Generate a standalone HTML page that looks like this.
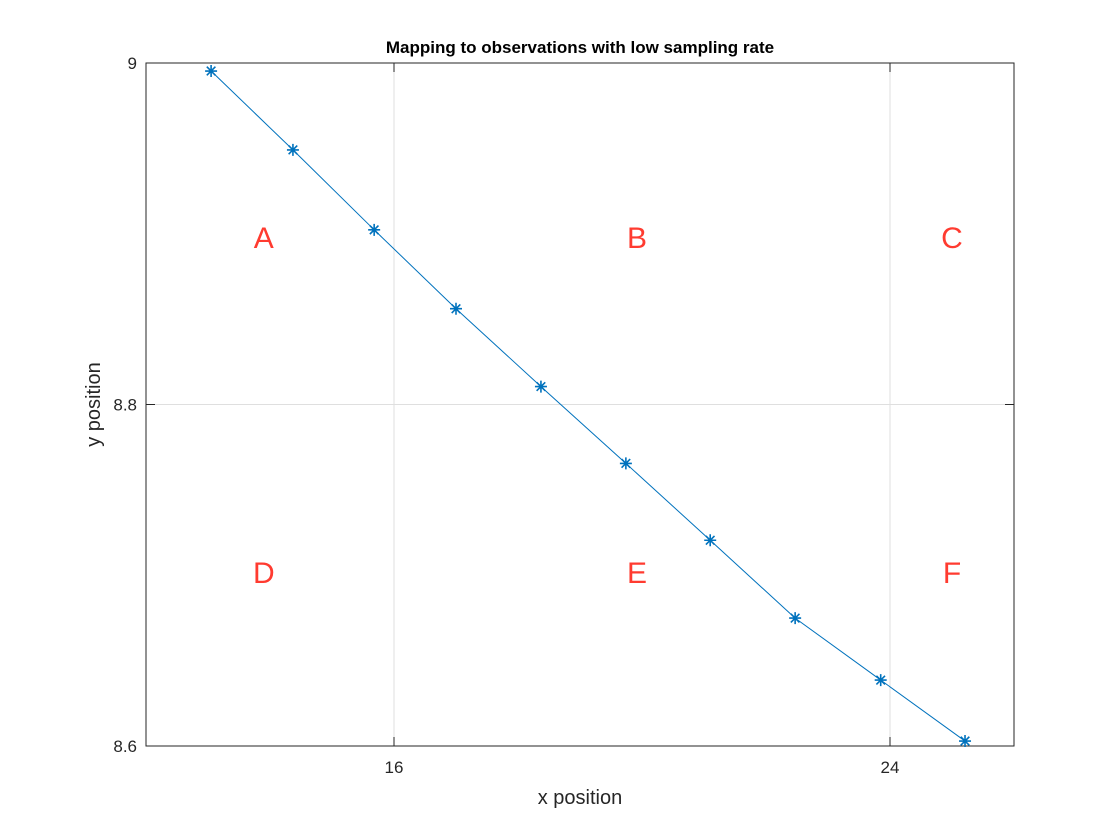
<!DOCTYPE html>
<html><head><meta charset="utf-8"><style>
html,body{margin:0;padding:0;background:#fff;}
svg{display:block;font-family:"Liberation Sans",sans-serif;}
</style></head><body>
<svg id="chart" width="1120" height="840"></svg>
<script>
const xs = [13.05, 14.37, 15.68, 17.0, 18.37, 19.74, 21.1, 22.47, 23.85, 25.21];
const ys = [8.9953, 8.9491, 8.9023, 8.8561, 8.8105, 8.7655, 8.7205, 8.6749, 8.6386, 8.6029];
const xTicks = [16, 24];
const yTicks = [8.6, 8.8, 9];
const yTickLabels = ["8.6", "8.8", "9"];
const regionLabels = ["A", "B", "C", "D", "E", "F"];
const regionX = [13.9, 19.92, 25.0, 13.9, 19.92, 25.0];
const regionY = [8.898, 8.898, 8.898, 8.702, 8.702, 8.702];

const L=146,R=1014,T=63,B=746;
const xMin=12,xMax=26,yMin=8.6,yMax=9;
const sx=v=>L+(v-xMin)/(xMax-xMin)*(R-L);
const sy=v=>B-(v-yMin)/(yMax-yMin)*(B-T);
const svg=document.getElementById('chart');
const NS='http://www.w3.org/2000/svg';
function mk(tag,attrs,parent){const e=document.createElementNS(NS,tag);for(const k in attrs)e.setAttribute(k,attrs[k]);(parent||svg).appendChild(e);return e;}

const bg=mk('rect',{x:L,y:T,width:R-L,height:B-T,fill:'#fff'});



xTicks.forEach(t=>{const g=mk('line',{x1:sx(t),x2:sx(t),y1:T,y2:B,stroke:'#dfdfdf','stroke-width':1});

});
yTicks.forEach(t=>{const g=mk('line',{x1:L,x2:R,y1:sy(t),y2:sy(t),stroke:'#dfdfdf','stroke-width':1});

});

const box=mk('rect',{x:L,y:T,width:R-L,height:B-T,fill:'none',stroke:'#262626','stroke-width':1});



xTicks.forEach(t=>{
mk('line',{x1:sx(t),x2:sx(t),y1:B,y2:B-9,stroke:'#262626'});
mk('line',{x1:sx(t),x2:sx(t),y1:T,y2:T+9,stroke:'#262626'});
const tx=mk('text',{x:sx(t),y:B+27,'text-anchor':'middle','font-size':17,fill:'#262626'});tx.textContent=t;

});
yTicks.forEach((t,i)=>{
mk('line',{x1:L,x2:L+9,y1:sy(t),y2:sy(t),stroke:'#262626'});
mk('line',{x1:R,x2:R-9,y1:sy(t),y2:sy(t),stroke:'#262626'});
const tx=mk('text',{x:L-9,y:sy(t)+6,'text-anchor':'end','font-size':17,fill:'#262626'});tx.textContent=yTickLabels[i];

});

const line=mk('polyline',{points:xs.map((x,i)=>sx(x)+','+sy(ys[i])).join(' '),fill:'none',stroke:'#0072bd','stroke-width':1});


xs.forEach((x,i)=>{const cx=sx(x),cy=sy(ys[i]),r=6,d=4.3;
const g=mk('path',{d:`M${cx-r},${cy}H${cx+r}M${cx},${cy-r}V${cy+r}M${cx-d},${cy-d}L${cx+d},${cy+d}M${cx-d},${cy+d}L${cx+d},${cy-d}`,stroke:'#0072bd','stroke-width':1.6,fill:'none'});

});

regionLabels.forEach((s,i)=>{const t=mk('text',{x:sx(regionX[i]),y:sy(regionY[i])+11,'text-anchor':'middle','font-size':30,fill:'#ff3b30'});t.textContent=s;

});

const title=mk('text',{x:(L+R)/2,y:53,'text-anchor':'middle','font-size':17,'font-weight':'bold',fill:'#000'});title.textContent='Mapping to observations with low sampling rate';


const xl=mk('text',{x:(L+R)/2,y:804,'text-anchor':'middle','font-size':20,fill:'#262626'});xl.textContent='x position';


const yl=mk('text',{x:0,y:0,'text-anchor':'middle','font-size':20,fill:'#262626',transform:`translate(100,${(T+B)/2}) rotate(-90)`});yl.textContent='y position';


</script>
</body></html>
